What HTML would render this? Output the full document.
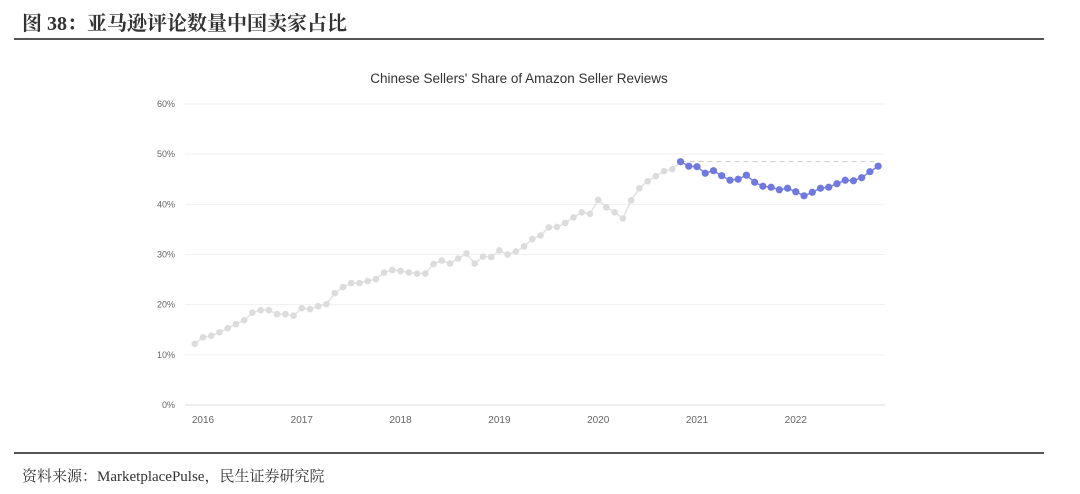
<!DOCTYPE html>
<html><head><meta charset="utf-8"><style>
body{margin:0;width:1080px;height:494px;background:#fff;overflow:hidden;font-family:"Liberation Sans","Noto Sans CJK SC",sans-serif}
#hdr{position:absolute;left:22px;top:7px;font-size:20px;font-weight:bold;color:#333;font-family:"Liberation Serif","Noto Serif CJK SC",serif}
#l1{position:absolute;left:14px;top:38px;width:1030px;height:2px;background:#555}
#l2{position:absolute;left:14px;top:452px;width:1030px;height:2px;background:#555}
#src{position:absolute;left:22px;top:465px;font-size:15px;color:#333;font-family:"Liberation Serif","Noto Serif CJK SC",serif}
svg{position:absolute;left:0;top:0}
</style></head><body>
<div id="hdr">图 38：亚马逊评论数量中国卖家占比</div>
<div id="l1"></div>
<svg id="chart" width="1080" height="494"></svg>
<div id="l2"></div>
<div id="src">资料来源：MarketplacePulse，民生证券研究院</div>
<script>
const grayValues=[12.2,13.5,13.8,14.5,15.3,16.1,16.9,18.4,18.9,18.9,18.1,18.1,17.8,
19.3,19.1,19.7,20.1,22.3,23.5,24.3,24.3,24.7,25.1,26.4,26.9,
26.7,26.4,26.2,26.2,28.1,28.8,28.2,29.2,30.2,28.2,29.6,29.5,
30.8,30.0,30.6,31.6,33.1,33.8,35.4,35.5,36.3,37.4,38.4,38.1,
40.9,39.4,38.4,37.2,40.8,43.2,44.6,45.6,46.6,47.0];
const blueValues=[48.5,47.6,47.5,46.2,46.7,45.7,44.8,45.0,45.8,44.4,43.6,43.4,42.9,43.2,42.5,41.7,42.4,43.2,43.4,44.1,44.8,44.7,45.3,46.5,47.6];
const yTicks=[0,10,20,30,40,50,60];
const xYears=[2016,2017,2018,2019,2020,2021,2022];
const startMonth=2015+11/12;
const NS="http://www.w3.org/2000/svg";
const svg=document.getElementById('chart');
const X=t=>203+(t-2016)*98.8;
const Y=v=>405-v*5.017;
function mk(tag,a){const e=document.createElementNS(NS,tag);for(const k in a)e.setAttribute(k,a[k]);svg.appendChild(e);return e;}
let t=mk('text',{x:519,y:83,'text-anchor':'middle','font-size':13.5,fill:'#333','font-weight':500});t.textContent="Chinese Sellers' Share of Amazon Seller Reviews";


yTicks.forEach(v=>{const g=mk('line',{x1:185,x2:885,y1:Y(v),y2:Y(v),stroke:v==0?'#ddd':'#f0f0f0'});


const l=mk('text',{x:175,y:Y(v)+3,'text-anchor':'end','font-size':9,fill:'#666'});l.textContent=v+'%';

});
xYears.forEach(y=>{const l=mk('text',{x:X(y),y:423,'text-anchor':'middle','font-size':10,fill:'#666'});l.textContent=y;

});
const tm=i=>startMonth+i/12;
const gp=grayValues.map((v,i)=>[X(tm(i)),Y(v)]);
const bo=grayValues.length;
const bp=blueValues.map((v,i)=>[X(tm(bo+i)),Y(v)]);
const d=mk('line',{x1:bp[0][0],x2:bp[bp.length-1][0],y1:bp[0][1],y2:bp[0][1],stroke:'#ccc','stroke-dasharray':'5,4'});


const pl=mk('polyline',{points:gp.concat([bp[0]]).map(p=>p.join(',')).join(' '),fill:'none',stroke:'#e2e2e2','stroke-width':1.5});


gp.forEach(p=>{const c=mk('circle',{cx:p[0],cy:p[1],r:3.3,fill:'#dcdcdc'});

});
const bl=mk('polyline',{points:bp.map(p=>p.join(',')).join(' '),fill:'none',stroke:'#7b84e0','stroke-width':1.5});


bp.forEach(p=>{const c=mk('circle',{cx:p[0],cy:p[1],r:3.6,fill:'#6f79e0'});

});
</script>
</body></html>
